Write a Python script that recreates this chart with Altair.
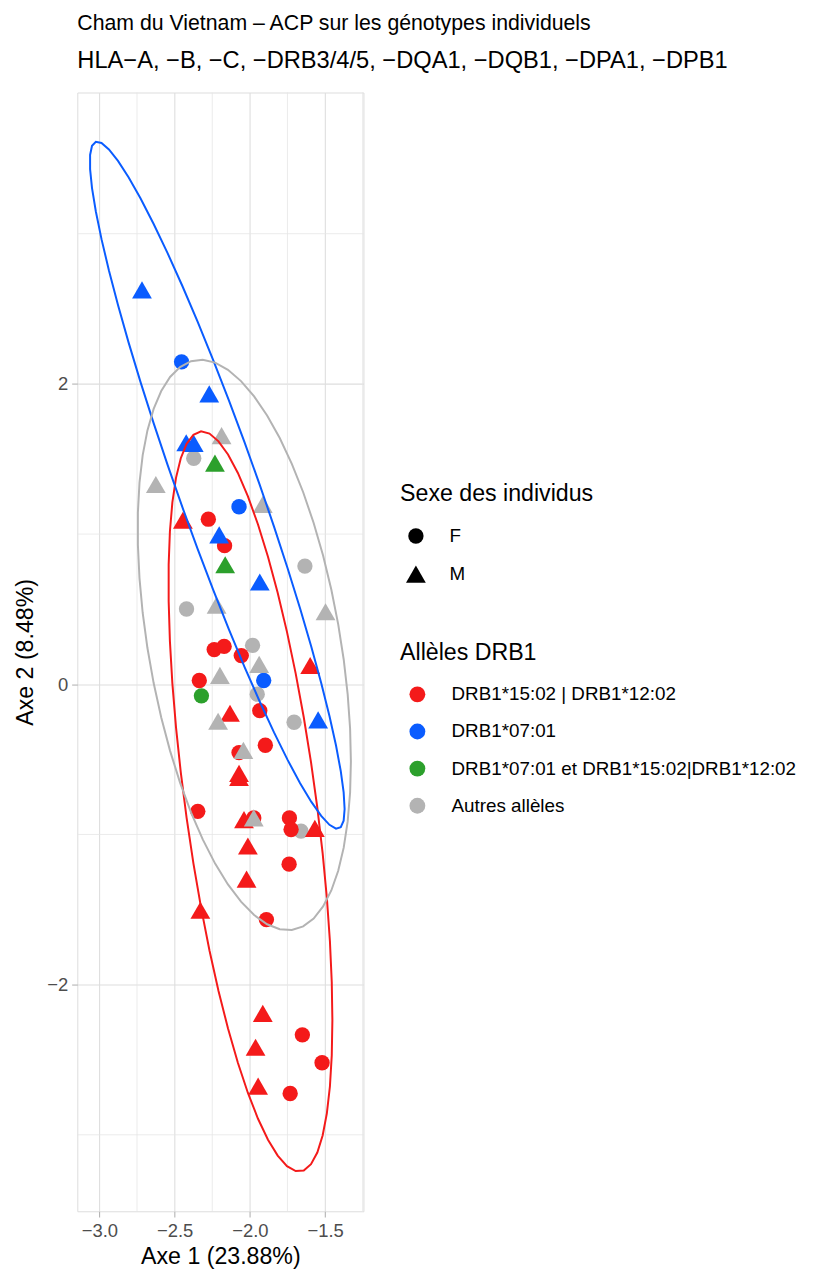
import altair as alt
import numpy as np
import pandas as pd

# ---------------- data ----------------
ALLELES = ["DRB1*15:02 | DRB1*12:02", "DRB1*07:01",
           "DRB1*07:01 et DRB1*15:02|DRB1*12:02", "Autres allèles"]
COLORS = ["#F41A1A", "#0A5CFF", "#2CA02C", "#B3B3B3"]
SEXES = ["F", "M"]

# Autres allèles, F
gray_f_x = [-2.373, -1.634, -2.421, -1.982, -1.951, -1.706, -1.660]
gray_f_y = [1.505, 0.787, 0.501, 0.259, -0.066, -0.253, -0.978]
# DRB1*15:02 | DRB1*12:02, F
red_f_x = [-2.276, -2.168, -2.237, -2.171, -2.057, -2.336, -1.934, -1.897, -2.072,
           -2.346, -1.974, -1.737, -1.726, -1.739, -1.890, -1.651, -1.520, -1.732]
red_f_y = [1.099, 0.923, 0.231, 0.252, 0.191, 0.025, -0.176, -0.406, -0.455,
           -0.846, -0.890, -0.890, -0.967, -1.198, -1.567, -2.334, -2.520, -2.725]
# DRB1*15:02 | DRB1*12:02, M
red_m_x = [-2.445, -1.599, -2.132, -2.072, -2.072, -2.039, -1.568, -2.013, -2.022,
           -2.329, -1.914, -1.962, -1.945]
red_m_y = [1.092, 0.125, -0.193, -0.593, -0.620, -0.901, -0.960, -1.077, -1.297,
           -1.505, -2.191, -2.417, -2.676]
# DRB1*07:01
blue_f_x = [-2.454, -2.072, -1.908]
blue_f_y = [2.147, 1.182, 0.025]
blue_m_x = [-2.717, -2.270, -2.423, -2.373, -2.204, -1.934, -1.546]
blue_m_y = [2.626, 1.933, 1.608, 1.604, 0.995, 0.681, -0.237]
# DRB1*07:01 et DRB1*15:02|DRB1*12:02
green_f_x = [-2.322]
green_f_y = [-0.077]
green_m_x = [-2.232, -2.164]
green_m_y = [1.472, 0.796]
# Autres allèles, M
gray_m_x = [-2.188, -2.625, -1.914, -2.221, -1.497, -1.938, -2.199, -2.211, -2.043, -1.974]
gray_m_y = [1.655, 1.330, 1.198, 0.527, 0.483, 0.132, 0.059, -0.246, -0.440, -0.890]

X_MAJOR = [-3.0, -2.5, -2.0, -1.5]
X_MINOR = [-2.75, -2.25, -1.75, -1.25]
Y_MAJOR = [-2, 0, 2]
Y_MINOR = [-3, -1, 1, 3]

TITLE = "Cham du Vietnam – ACP sur les génotypes individuels"
SUBTITLE = "HLA−A, −B, −C, −DRB3/4/5, −DQA1, −DQB1, −DPA1, −DPB1"
X_TITLE = "Axe 1 (23.88%)"
Y_TITLE = "Axe 2 (8.48%)"

# ---------------- build tables ----------------
groups = [
    (gray_f_x, gray_f_y, "F", ALLELES[3]),
    (red_f_x, red_f_y, "F", ALLELES[0]),
    (red_m_x, red_m_y, "M", ALLELES[0]),
    (blue_f_x, blue_f_y, "F", ALLELES[1]),
    (blue_m_x, blue_m_y, "M", ALLELES[1]),
    (green_f_x, green_f_y, "F", ALLELES[2]),
    (green_m_x, green_m_y, "M", ALLELES[2]),
    (gray_m_x, gray_m_y, "M", ALLELES[3]),
]
rows = []
for xs, ys, sex, al in groups:
    for a, b in zip(xs, ys):
        rows.append({"x": a, "y": b, "sexe": sex, "allele": al})
pts = pd.DataFrame(rows)
pts["ord"] = np.arange(len(pts))


# stat_ellipse (type "t", level 0.95) as ggplot2 computes it
def cov_trob(X, nu=5, maxit=25, tol=0.01):
    n, p = X.shape
    wt = np.ones(n)
    loc = X.mean(axis=0)
    w = np.sqrt(wt)
    Xc = X - loc
    for _ in range(maxit):
        w0 = w
        Xc = X - loc
        _, d, vt = np.linalg.svd(np.sqrt(w / w.sum())[:, None] * Xc, full_matrices=False)
        wX = Xc @ vt.T @ np.diag(1.0 / d)
        Q = (wX ** 2).sum(axis=1)
        w = (wt * (nu + p)) / (nu + Q)
        loc = (w[:, None] * X).sum(axis=0) / w.sum()
        if np.all(np.abs(w - w0) < tol):
            break
    cov = (np.sqrt(w)[:, None] * Xc).T @ (np.sqrt(w)[:, None] * Xc) / wt.sum()
    return loc, cov


ell_rows = []
for al in [ALLELES[0], ALLELES[1], ALLELES[3]]:
    sub = pts[pts["allele"] == al][["x", "y"]].to_numpy()
    n = len(sub)
    center, shape = cov_trob(sub)
    d2 = n - 1
    qf = (d2 / 2.0) * ((1 - 0.95) ** (-2.0 / d2) - 1)
    radius = np.sqrt(2 * qf)
    ang = np.arange(52) * 2 * np.pi / 51
    circ = np.column_stack([np.cos(ang), np.sin(ang)])
    L = np.linalg.cholesky(shape)
    e = center + radius * (circ @ L.T)
    for i, (a, b) in enumerate(e):
        ell_rows.append({"x": a, "y": b, "allele": al, "idx": i})
ell = pd.DataFrame(ell_rows)

FONT = "Liberation Sans"
xscale = alt.Scale(domain=[-3.147, -1.245], nice=False, zero=False)
yscale = alt.Scale(domain=[-3.509, 3.94], nice=False, zero=False)
xaxis = alt.Axis(values=X_MAJOR, format=".1f", title=X_TITLE, grid=True,
                 gridColor="#DEDEDE", gridWidth=1.1, domain=False,
                 tickColor="#B3B3B3", tickSize=5.7, tickWidth=1.1,
                 labelFont=FONT, labelFontSize=18.6, labelColor="#4D4D4D", labelPadding=5,
                 titleFont=FONT, titleFontSize=23.4, titleFontWeight="normal",
                 titleColor="black", titlePadding=5)
yaxis = alt.Axis(values=Y_MAJOR, format="d", title=Y_TITLE, grid=True,
                 gridColor="#DEDEDE", gridWidth=1.1, domain=False,
                 tickColor="#B3B3B3", tickSize=5.7, tickWidth=1.1,
                 labelFont=FONT, labelFontSize=18.6, labelColor="#4D4D4D", labelPadding=4,
                 titleFont=FONT, titleFontSize=23.4, titleFontWeight="normal",
                 titleColor="black", titlePadding=9)

color_scale = alt.Scale(domain=ALLELES, range=COLORS)


def sex_legend():
    return alt.Legend(
        title="Sexe des individus", orient="none", legendX=326, legendY=395,
        symbolFillColor="black", symbolStrokeWidth=0,
        symbolOffset=6, labelOffset=24, rowPadding=18, titlePadding=20, padding=0,
        titleFont=FONT, titleFontSize=23.4, titleFontWeight="normal", titleColor="black",
        titleLimit=500, labelLimit=500,
        labelFont=FONT, labelFontSize=19, labelColor="black")


xgrid = alt.Chart(pd.DataFrame({"x": X_MINOR})).mark_rule(
    color="#E6E6E6", strokeWidth=0.8).encode(x=alt.X("x:Q", scale=xscale, axis=xaxis))
ygrid = alt.Chart(pd.DataFrame({"y": Y_MINOR})).mark_rule(
    color="#E6E6E6", strokeWidth=0.8).encode(y=alt.Y("y:Q", scale=yscale, axis=yaxis))

points = alt.Chart(pts).mark_point(filled=True, opacity=1, strokeWidth=0).encode(
    x=alt.X("x:Q", scale=xscale, axis=xaxis),
    y=alt.Y("y:Q", scale=yscale, axis=yaxis),
    color=alt.Color("allele:N", scale=color_scale, legend=alt.Legend(
        title="Allèles DRB1", orient="none", legendX=326, legendY=555,
        symbolType="circle", symbolSize=256, symbolStrokeWidth=0,
        symbolOffset=8, labelOffset=25, rowPadding=17.5, titlePadding=20, padding=0,
        titleFont=FONT, titleFontSize=23.4, titleFontWeight="normal", titleColor="black",
        titleLimit=500,
        labelFont=FONT, labelFontSize=19, labelColor="black", labelLimit=600)),
    shape=alt.Shape("sexe:N", scale=alt.Scale(domain=SEXES, range=["circle", "triangle-up"]),
                    legend=sex_legend()),
    size=alt.Size("sexe:N", scale=alt.Scale(domain=SEXES, range=[240, 400]),
                  legend=sex_legend()),
    order=alt.Order("ord:Q"),
)

ellipses = alt.Chart(ell).mark_line(strokeWidth=2).encode(
    x=alt.X("x:Q", scale=xscale, axis=xaxis),
    y=alt.Y("y:Q", scale=yscale, axis=yaxis),
    color=alt.Color("allele:N", scale=color_scale, legend=None),
    detail="allele:N",
    order=alt.Order("idx:Q"),
)

chart = alt.layer(xgrid, ygrid, points, ellipses).properties(
    width=289, height=1130,
    autosize=alt.AutoSizeParams(type="none"),
    padding={"left": 70, "top": 79, "right": 446, "bottom": 58},
    title=alt.TitleParams(text=TITLE, subtitle=SUBTITLE, anchor="start", frame="group",
                          font=FONT, fontSize=21.5, fontWeight="normal", color="black",
                          subtitleFont=FONT, subtitleFontSize=23.9, subtitleColor="black",
                          subtitlePadding=15, offset=19),
).configure_view(stroke="#B3B3B3", strokeWidth=1.5).configure(background="white")

chart.save("out.html", embed_options={"renderer": "svg", "actions": False})
